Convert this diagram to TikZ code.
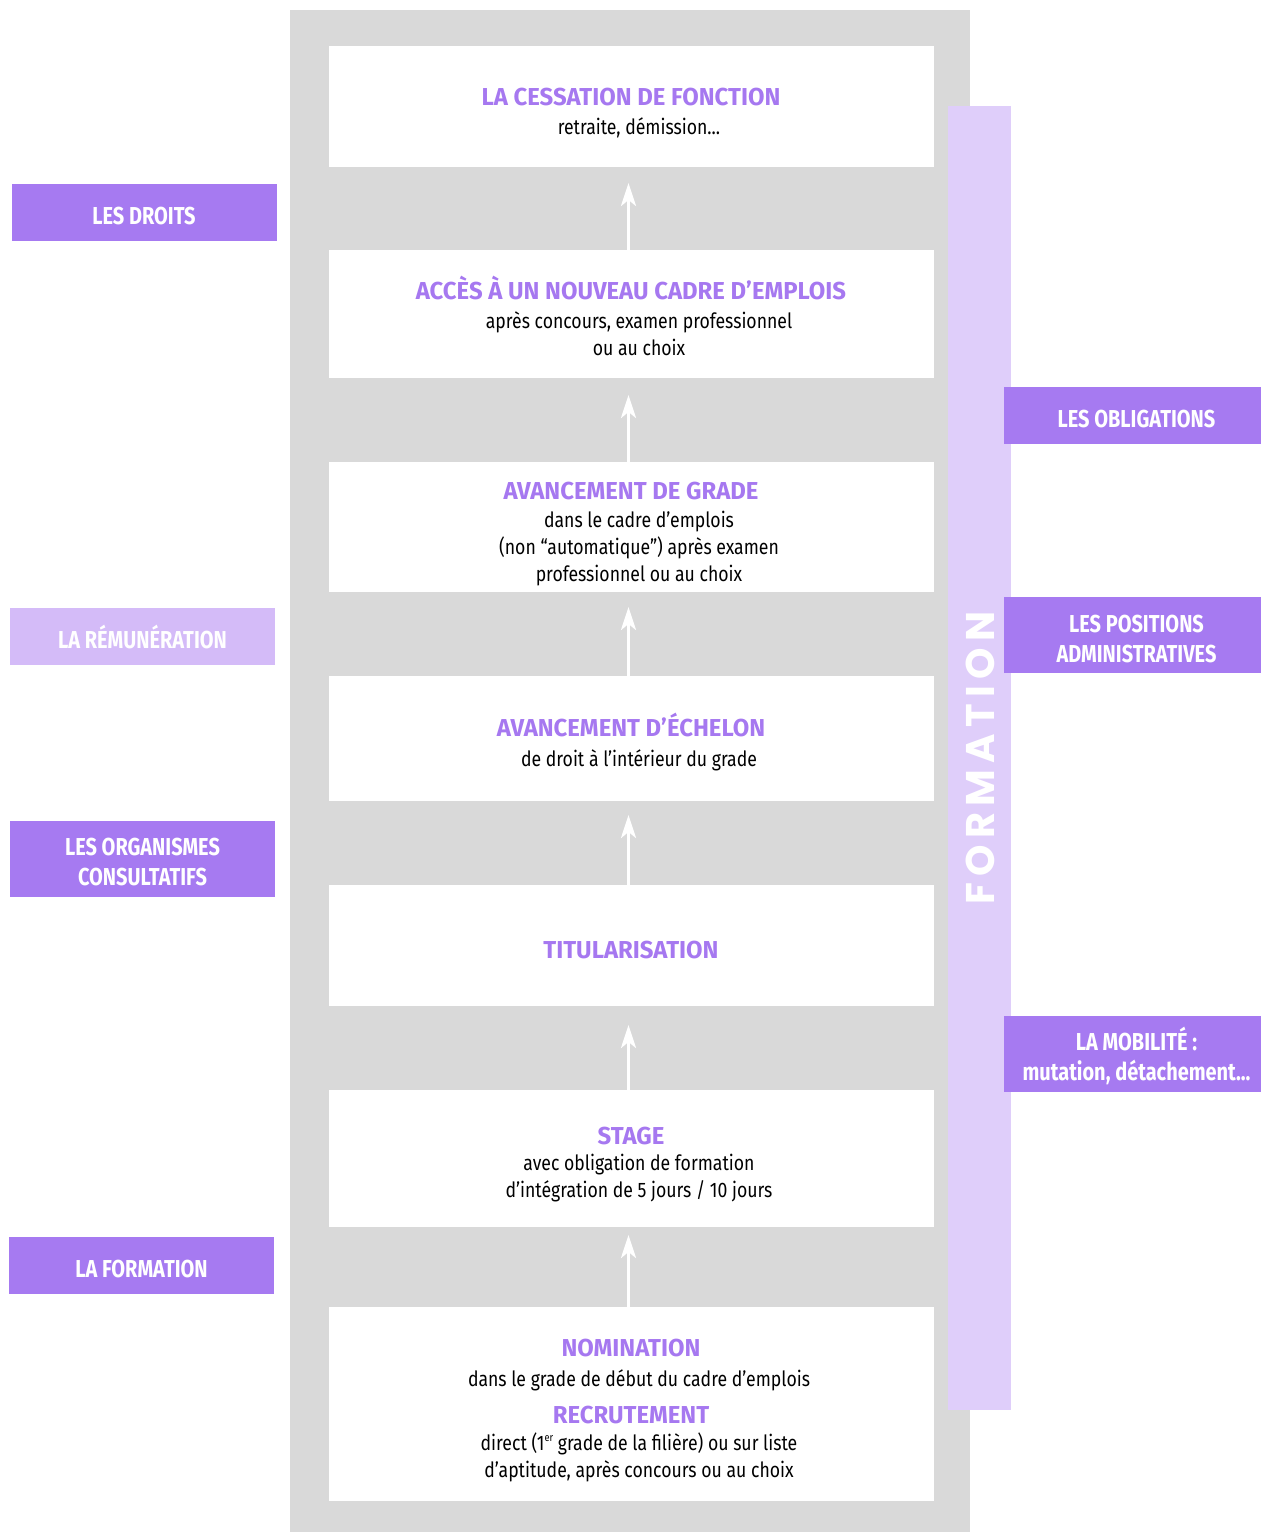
\documentclass[tikz,border=0pt]{standalone}
\usepackage{fontspec}
\setmainfont{Fira Sans}
\newfontfamily\ttlfont{Fira Sans}[FakeStretch=0.975]
\newfontfamily\bodyfont{Fira Sans}[FakeStretch=0.84]
\newfontfamily\labfont{Fira Sans}[FakeStretch=0.815]
\newfontfamily\vertfont{Poppins}[LetterSpace=16]
\newcommand{\supsc}[1]{\raisebox{0.75ex}{\fontsize{11}{11}\selectfont #1}}
\usetikzlibrary{arrows.meta}
\definecolor{bggray}{HTML}{D9D9D9}
\definecolor{lab}{HTML}{A67AF1}
\definecolor{lablight}{HTML}{D4BBF8}
\definecolor{stripc}{HTML}{DFCEFA}
\definecolor{ttl}{HTML}{A678F0}
\begin{document}
\begin{tikzpicture}[x=1pt,y=-1pt,
  panel/.style={rectangle, inner sep=0pt, outer sep=0pt},
  stepbox/.style={panel, fill=white, minimum width=605pt},
  tag/.style={panel, fill=lab, minimum width=265pt, minimum height=57pt},
  rtag/.style={panel, fill=lab, minimum width=257pt, minimum height=57pt},
  ttltext/.style={anchor=base, inner sep=0pt, text=ttl, font=\ttlfont\bfseries\fontsize{24.5}{30}\selectfont},
  bodytext/.style={anchor=base, inner sep=0pt, align=center, font=\bodyfont\fontsize{21}{27}\selectfont},
  tagtext/.style={anchor=base, inner sep=0pt, align=center, text=white, font=\labfont\bfseries\fontsize{24.5}{30}\selectfont},
  arr/.style={draw=white, line width=3pt, -{Stealth[length=23pt,width=15pt,inset=6pt]}}]
\useasboundingbox (0,0) rectangle (1261,1532);
\fill[white] (0,0) rectangle (1261,1532);
% background column and strip
\node[panel, fill=bggray, minimum width=680pt, minimum height=1522pt] (bg) at (630,771) {};
\node[panel, fill=stripc, minimum width=63pt, minimum height=1304pt] (strip) at (979.5,758) {};
\node[rotate=90, inner sep=0pt, text=white, font=\vertfont\bfseries\fontsize{40}{40}\selectfont] (formv) at (980,758) {FORMATION};
% step boxes
\node[stepbox, minimum height=121pt] (b1) at (631.5,106.5) {};
\node[stepbox, minimum height=128pt] (b2) at (631.5,314) {};
\node[stepbox, minimum height=130pt] (b3) at (631.5,527) {};
\node[stepbox, minimum height=125pt] (b4) at (631.5,738.5) {};
\node[stepbox, minimum height=121pt] (b5) at (631.5,945.5) {};
\node[stepbox, minimum height=137pt] (b6) at (631.5,1158.5) {};
\node[stepbox, minimum height=194pt] (b7) at (631.5,1404) {};
% texts (multi-line nodes: base = baseline of last line)
\node[ttltext] (b1t) at (631,105) {LA CESSATION DE FONCTION};
\node[bodytext] (b1d) at (639,134) {retraite, démission...};
\node[ttltext] (b2t) at (631,299) {ACCÈS À UN NOUVEAU CADRE D’EMPLOIS};
\node[bodytext] (b2d) at (639,355) {après concours, examen professionnel\\ou au choix};
\node[ttltext] (b3t) at (631,499) {AVANCEMENT DE GRADE};
\node[bodytext] (b3d) at (639,581) {dans le cadre d’emplois\\(non “automatique”) après examen\\professionnel ou au choix};
\node[ttltext] (b4t) at (631,736) {AVANCEMENT D’ÉCHELON};
\node[bodytext] (b4d) at (639,766) {de droit à l’intérieur du grade};
\node[ttltext] (b5t) at (631,958) {TITULARISATION};
\node[ttltext] (b6t) at (631,1144) {STAGE};
\node[bodytext] (b6d) at (639,1197) {avec obligation de formation\\d’intégration de 5 jours / 10 jours};
\node[ttltext] (b7t) at (631,1356) {NOMINATION};
\node[bodytext] (b7d) at (639,1386) {dans le grade de début du cadre d’emplois};
\node[ttltext] (b7u) at (631,1423) {RECRUTEMENT};
\node[bodytext] (b7e) at (639,1477) {direct (1\supsc{er} grade de la filière) ou sur liste\\d’aptitude, après concours ou au choix};
% arrows
\coordinate (t1) at (628.5,183);
\coordinate (t2) at (628.5,395);
\coordinate (t3) at (628.5,607);
\coordinate (t4) at (628.5,815);
\coordinate (t5) at (628.5,1025);
\coordinate (t6) at (628.5,1235);
\draw[arr] (b2.north -| t1) -- (t1);
\draw[arr] (b3.north -| t2) -- (t2);
\draw[arr] (b4.north -| t3) -- (t3);
\draw[arr] (b5.north -| t4) -- (t4);
\draw[arr] (b6.north -| t5) -- (t5);
\draw[arr] (b7.north -| t6) -- (t6);
% left tags
\node[tag] (l1) at (144.5,212.5) {};
\node[tagtext] (l1t) at (144,224) {LES DROITS};
\node[tag, fill=lablight] (l2) at (142.5,636.5) {};
\node[tagtext] (l2t) at (142.5,648) {LA RÉMUNÉRATION};
\node[tag, minimum height=76pt] (l3) at (142.5,859) {};
\node[tagtext] (l3t) at (142.5,885) {LES ORGANISMES\\CONSULTATIFS};
\node[tag] (l4) at (141.5,1265.5) {};
\node[tagtext] (l4t) at (141.5,1277) {LA FORMATION};
% right tags
\node[rtag] (r1) at (1132.5,415.5) {};
\node[tagtext] (r1t) at (1136.5,427) {LES OBLIGATIONS};
\node[rtag, minimum height=76pt] (r2) at (1132.5,635) {};
\node[tagtext] (r2t) at (1136.5,662) {LES POSITIONS\\ADMINISTRATIVES};
\node[rtag, minimum height=76pt] (r3) at (1132.5,1054) {};
\node[tagtext] (r3t) at (1136.5,1080) {LA MOBILITÉ :\\mutation, détachement...};
\end{tikzpicture}
\end{document}
